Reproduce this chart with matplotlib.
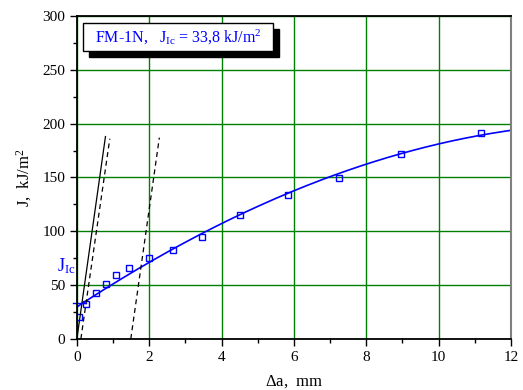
import numpy as np
import matplotlib
matplotlib.use("Agg")
import matplotlib.pyplot as plt
from matplotlib.patches import Rectangle
from matplotlib.ticker import MultipleLocator

plt.rcParams['font.family'] = 'Liberation Serif'
plt.rcParams['mathtext.fontset'] = 'custom'
plt.rcParams['mathtext.rm'] = 'Liberation Serif'
plt.rcParams['mathtext.it'] = 'Liberation Serif:italic'

# measured points (crack extension, J)
da = [0.05, 0.26, 0.52, 0.80, 1.09, 1.45, 1.99, 2.65, 3.46, 4.50, 5.83, 7.25, 8.96, 11.17]
J = [20.4, 32.8, 43.0, 50.8, 59.7, 66.2, 74.9, 83.0, 95.0, 114.8, 134.0, 149.8, 172.0, 191.3]

# fitted curve
fit_x = [0, 0.5, 1, 1.5, 2, 3, 4, 5, 6, 7, 8, 9, 10, 11, 12]
fit_y = [30, 40.6, 51, 61, 70.3, 90, 108.6, 123.6, 136.8, 149.8, 161.9, 173.6, 180.9, 188.7, 193.4]

# blunting line and exclusion lines
blunt_x = [0.0, 0.79]
blunt_y = [0.0, 188.0]
excl1_x = [0.11, 0.91]
excl1_y = [0.0, 186.0]
excl2_x = [1.49, 2.28]
excl2_y = [0.0, 187.0]

J_Ic = 33.8

fig = plt.figure(figsize=(5.23, 3.9), dpi=100)
ax = fig.add_axes([0.147, 0.131, 0.83, 0.828])

ax.set_xlim(0, 12)
ax.set_ylim(0, 300)
ax.xaxis.set_major_locator(MultipleLocator(2))
ax.xaxis.set_minor_locator(MultipleLocator(1))
ax.yaxis.set_major_locator(MultipleLocator(50))
ax.yaxis.set_minor_locator(MultipleLocator(25))
ax.grid(True, which='major', color='#008000', linewidth=1.0)
ax.set_axisbelow(True)
ax.tick_params(which='major', direction='out', length=5, width=1, labelsize=11,
               top=False, right=False)
ax.tick_params(which='minor', direction='out', length=3, width=1,
               top=False, right=False)
for s in ['left', 'bottom', 'top']:
    ax.spines[s].set_linewidth(1.3)
ax.spines['right'].set_color('gray')
ax.spines['right'].set_linewidth(1.5)

# smooth regression through the read curve values
coef = np.polyfit(fit_x, fit_y, 3)
xs = np.linspace(0, 12, 200)
ax.plot(xs, np.polyval(coef, xs), color='blue', linewidth=1.2)

ax.plot(da, J, linestyle='none', marker='s', markersize=5, markerfacecolor='none',
        markeredgecolor='blue', markeredgewidth=1.0)

ax.plot(blunt_x, blunt_y, color='black', linewidth=0.9)
ax.plot(excl1_x, excl1_y, color='black', linewidth=0.9, linestyle=(0, (4, 3)))
ax.plot(excl2_x, excl2_y, color='black', linewidth=0.9, linestyle=(0, (4, 3)))

ax.plot([-0.1, 0.25], [J_Ic, J_Ic], color='blue', linewidth=1.0, clip_on=False)
ax.text(-0.55, 68, r'$\mathrm{J}_{\mathrm{Ic}}$', color='blue', fontsize=13,
        ha='left', va='center', clip_on=False)

ax.set_xlabel(r'$\Delta$a,  mm', fontsize=12, labelpad=7)
ax.set_ylabel(r'J,  kJ/m$^2$', fontsize=12, labelpad=6)

# legend box with shadow
W, H = 523.0, 390.0
bx0, by0, bx1, by1 = 83.3, 23.3, 273.0, 51.0
off = 6
fig.patches.append(Rectangle(((bx0 + off) / W, 1 - (by1 + off) / H),
                             (bx1 - bx0) / W, (by1 - by0) / H,
                             transform=fig.transFigure, facecolor='black',
                             edgecolor='black', zorder=5))
fig.patches.append(Rectangle((bx0 / W, 1 - by1 / H), (bx1 - bx0) / W, (by1 - by0) / H,
                             transform=fig.transFigure, facecolor='white',
                             edgecolor='black', linewidth=1.0, zorder=6))
fig.text((bx0 + bx1) / 2 / W, 1 - (by0 + by1) / 2 / H,
         r'FM-1N,   $\mathrm{J}_{\mathrm{Ic}}$ = 33,8 kJ/m$^2$',
         color='blue', fontsize=11.5, ha='center', va='center', zorder=7)

fig.savefig('out.png', dpi=100)
